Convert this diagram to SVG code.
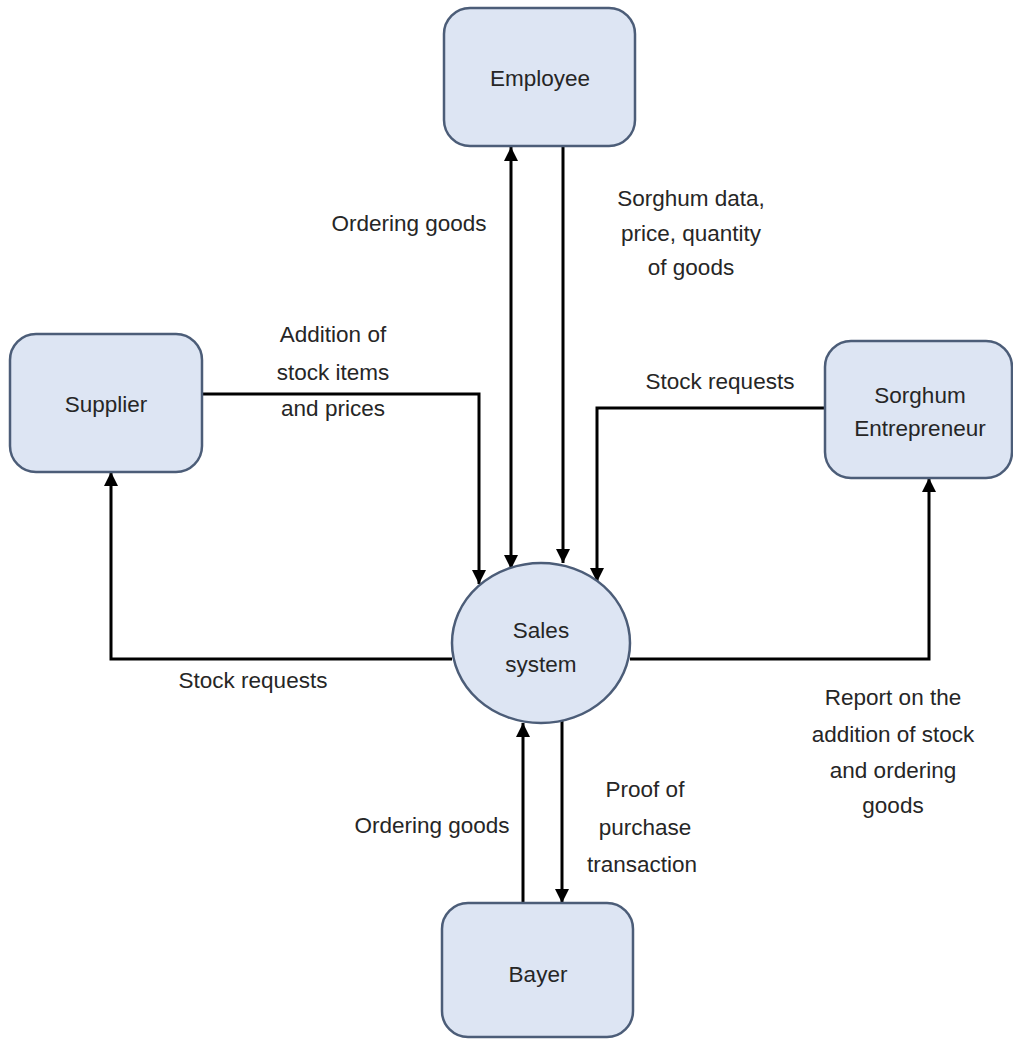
<svg xmlns="http://www.w3.org/2000/svg" width="1013" height="1040" viewBox="0 0 1013 1040">
<style>
.box{fill:#dde5f3;stroke:#4c5d78;stroke-width:2.5}
.lbl{font-family:"Liberation Sans",Arial,sans-serif;font-size:22.5px;fill:#262626;text-anchor:middle}
.con{fill:none;stroke:#000;stroke-width:3}
</style>
<defs>
<marker id="arr" viewBox="0 0 10 10" refX="10" refY="5" markerWidth="15" markerHeight="14" markerUnits="userSpaceOnUse" orient="auto-start-reverse">
<path d="M0,0 L10,5 L0,10 z" fill="#000"/>
</marker>
</defs>
<rect width="1013" height="1040" fill="#fff"/>
<g id="connectors">
<path class="con" d="M202,394 H479 V584" marker-end="url(#arr)"/>
<path class="con" d="M511,569 V147" marker-start="url(#arr)" marker-end="url(#arr)"/>
<path class="con" d="M563,146 V563" marker-end="url(#arr)"/>
<path class="con" d="M825,408 H597 V582" marker-end="url(#arr)"/>
<path class="con" d="M452,659 H111 V472" marker-end="url(#arr)"/>
<path class="con" d="M630,659 H929 V478" marker-end="url(#arr)"/>
<path class="con" d="M523,903 V723" marker-end="url(#arr)"/>
<path class="con" d="M562,720 V903" marker-end="url(#arr)"/>
</g>
<g id="employee">
<rect class="box" x="444" y="8" width="191" height="138" rx="26"/>
<text class="lbl" x="540" y="86">Employee</text>
</g>
<g id="supplier">
<rect class="box" x="10" y="334" width="192" height="138" rx="26"/>
<text class="lbl" x="106" y="412">Supplier</text>
</g>
<g id="entrepreneur">
<rect class="box" x="825" y="341" width="187" height="137" rx="26"/>
<text class="lbl" x="920" y="403">Sorghum</text>
<text class="lbl" x="920" y="436">Entrepreneur</text>
</g>
<g id="sales">
<ellipse class="box" cx="541" cy="643" rx="89" ry="80"/>
<text class="lbl" x="541" y="638">Sales</text>
<text class="lbl" x="541" y="672">system</text>
</g>
<g id="bayer">
<rect class="box" x="442" y="903" width="191" height="134" rx="26"/>
<text class="lbl" x="538" y="982">Bayer</text>
</g>
<g id="labels">
<text class="lbl" x="409" y="231">Ordering goods</text>
<text class="lbl" x="691" y="206">Sorghum data,</text>
<text class="lbl" x="691" y="241">price, quantity</text>
<text class="lbl" x="691" y="275">of goods</text>
<text class="lbl" x="333" y="342">Addition of</text>
<text class="lbl" x="333" y="380">stock items</text>
<text class="lbl" x="333" y="416">and prices</text>
<text class="lbl" x="720" y="389">Stock requests</text>
<text class="lbl" x="253" y="688">Stock requests</text>
<text class="lbl" x="893" y="705">Report on the</text>
<text class="lbl" x="893" y="742">addition of stock</text>
<text class="lbl" x="893" y="778">and ordering</text>
<text class="lbl" x="893" y="813">goods</text>
<text class="lbl" x="432" y="833">Ordering goods</text>
<text class="lbl" x="645" y="797">Proof of</text>
<text class="lbl" x="645" y="835">purchase</text>
<text class="lbl" x="642" y="872">transaction</text>
</g>
</svg>
